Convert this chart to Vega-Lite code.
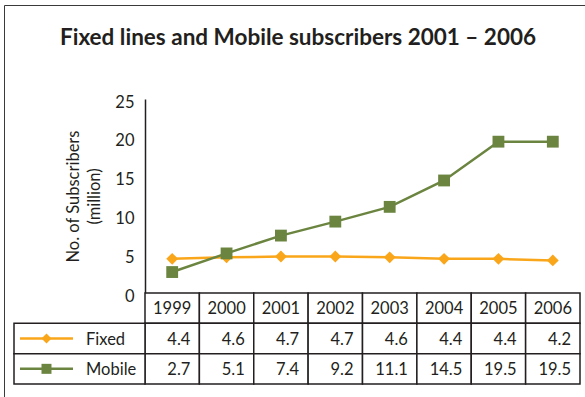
{
  "$schema": "https://vega.github.io/schema/vega-lite/v6.json",
  "autosize": "none",
  "padding": {"left": 4, "top": 5, "right": 0, "bottom": 0},
  "width": 600,
  "height": 420,
  "background": "white",
  "config": {
    "view": {"stroke": "#3a3a3a", "strokeWidth": 1},
    "font": "Lato",
    "text": {"font": "Lato"}
  },
  "title": {
    "text": "Fixed lines and Mobile subscribers 2001 \u2013 2006",
    "font": "Lato",
    "fontSize": 22.5,
    "fontWeight": "bold",
    "color": "#231f20",
    "anchor": "middle",
    "frame": "group",
    "offset": -62,
    "baseline": "alphabetic",
    "dx": -6
  },
  "datasets": {
    "subs": [
      {"series": "Fixed", "year": 1999, "value": 4.4},
      {"series": "Fixed", "year": 2000, "value": 4.6},
      {"series": "Fixed", "year": 2001, "value": 4.7},
      {"series": "Fixed", "year": 2002, "value": 4.7},
      {"series": "Fixed", "year": 2003, "value": 4.6},
      {"series": "Fixed", "year": 2004, "value": 4.4},
      {"series": "Fixed", "year": 2005, "value": 4.4},
      {"series": "Fixed", "year": 2006, "value": 4.2},
      {"series": "Mobile", "year": 1999, "value": 2.7},
      {"series": "Mobile", "year": 2000, "value": 5.1},
      {"series": "Mobile", "year": 2001, "value": 7.4},
      {"series": "Mobile", "year": 2002, "value": 9.2},
      {"series": "Mobile", "year": 2003, "value": 11.1},
      {"series": "Mobile", "year": 2004, "value": 14.5},
      {"series": "Mobile", "year": 2005, "value": 19.5},
      {"series": "Mobile", "year": 2006, "value": 19.5}
    ],
    "legend": [
      {"series": "Fixed"},
      {"series": "Mobile"}
    ]
  },
  "resolve": {"scale": {"x": "independent", "y": "independent"}},
  "layer": [
    {
      "data": {"name": "subs"},
      "encoding": {
        "x": {
          "field": "year", "type": "ordinal",
          "scale": {"type": "band", "domain": [1999, 2000, 2001, 2002, 2003, 2004, 2005, 2006], "range": [141, 576], "paddingInner": 0, "paddingOuter": 0},
          "axis": null
        },
        "y": {
          "field": "value", "type": "quantitative",
          "scale": {"domain": [0, 25], "range": [288, 94], "nice": false},
          "axis": {
            "orient": "left", "offset": -141, "values": [0, 5, 10, 15, 20, 25],
            "ticks": false, "grid": false,
            "domainColor": "#231f20", "domainWidth": 1.5,
            "labelFont": "Lato", "labelFontSize": 16.5, "labelColor": "#231f20",
            "labelPadding": 11, "labelOffset": 3,
            "title": ["No. of Subscribers", "(million)"],
            "titleFont": "Lato", "titleFontSize": 16.5, "titleFontWeight": "normal",
            "titleColor": "#231f20", "titlePadding": 12, "titleLineHeight": 21
          }
        },
        "color": {
          "field": "series", "type": "nominal",
          "scale": {"domain": ["Fixed", "Mobile"], "range": ["#FAA61A", "#6B8540"]},
          "legend": null
        }
      },
      "layer": [
        {"mark": {"type": "line", "strokeWidth": 2.5}},
        {
          "mark": {"type": "point", "filled": true, "size": 140, "opacity": 1},
          "encoding": {
            "shape": {"field": "series", "type": "nominal", "scale": {"domain": ["Fixed", "Mobile"], "range": ["diamond", "square"]}, "legend": null}
          }
        }
      ]
    },
    {
      "data": {"name": "subs"},
      "encoding": {
        "x": {
          "field": "year", "type": "ordinal",
          "scale": {"type": "band", "domain": [1999, 2000, 2001, 2002, 2003, 2004, 2005, 2006], "range": [141, 576], "paddingInner": 0, "paddingOuter": 0},
          "axis": null
        }
      },
      "layer": [
        {
          "transform": [{"filter": "datum.series === 'Fixed'"}],
          "mark": {"type": "rect", "fill": "white", "stroke": "#231f20", "strokeWidth": 1.5},
          "encoding": {
            "y": {
              "datum": "Year", "type": "nominal",
              "scale": {"type": "band", "domain": ["Year", "Fixed", "Mobile"], "range": [288, 379], "paddingInner": 0, "paddingOuter": 0},
              "axis": null
            }
          }
        },
        {
          "transform": [{"filter": "datum.series === 'Fixed'"}],
          "mark": {"type": "text", "fontSize": 16.5, "color": "#231f20", "dy": 1},
          "encoding": {
            "y": {"datum": "Year", "type": "nominal"},
            "text": {"field": "year", "type": "ordinal"}
          }
        },
        {
          "mark": {"type": "rect", "fill": "white", "stroke": "#231f20", "strokeWidth": 1.5},
          "encoding": {
            "y": {"field": "series", "type": "nominal"}
          }
        },
        {
          "mark": {"type": "text", "fontSize": 16.5, "color": "#231f20", "align": "right", "dx": -9, "dy": 1},
          "encoding": {
            "x": {"field": "year", "type": "ordinal", "bandPosition": 1},
            "y": {"field": "series", "type": "nominal"},
            "text": {"field": "value", "type": "quantitative", "format": ".1f"}
          }
        }
      ]
    },
    {
      "data": {"name": "legend"},
      "encoding": {
        "y": {
          "field": "series", "type": "nominal",
          "scale": {"type": "band", "domain": ["Year", "Fixed", "Mobile"], "range": [288, 379], "paddingInner": 0, "paddingOuter": 0},
          "axis": null
        }
      },
      "layer": [
        {
          "mark": {"type": "rect", "fill": "white", "stroke": "#231f20", "strokeWidth": 1.5},
          "encoding": {
            "x": {
              "datum": "key", "type": "nominal",
              "scale": {"type": "band", "domain": ["key"], "range": [10, 141], "paddingInner": 0, "paddingOuter": 0},
              "axis": null
            }
          }
        },
        {
          "mark": {"type": "point", "shape": "M-1,0L1,0", "size": 2809, "filled": false, "strokeWidth": 2.5, "opacity": 1},
          "encoding": {
            "x": {"datum": "key", "type": "nominal", "bandPosition": 0.248},
            "color": {"field": "series", "type": "nominal", "legend": null}
          }
        },
        {
          "mark": {"type": "point", "filled": true, "size": 100, "opacity": 1},
          "encoding": {
            "x": {"datum": "key", "type": "nominal", "bandPosition": 0.248},
            "color": {"field": "series", "type": "nominal", "legend": null},
            "shape": {"field": "series", "type": "nominal", "legend": null}
          }
        },
        {
          "mark": {"type": "text", "align": "left", "fontSize": 16.5, "color": "#231f20", "dy": 1},
          "encoding": {
            "x": {"datum": "key", "type": "nominal", "bandPosition": 0.55},
            "text": {"field": "series", "type": "nominal"}
          }
        }
      ]
    }
  ]
}
